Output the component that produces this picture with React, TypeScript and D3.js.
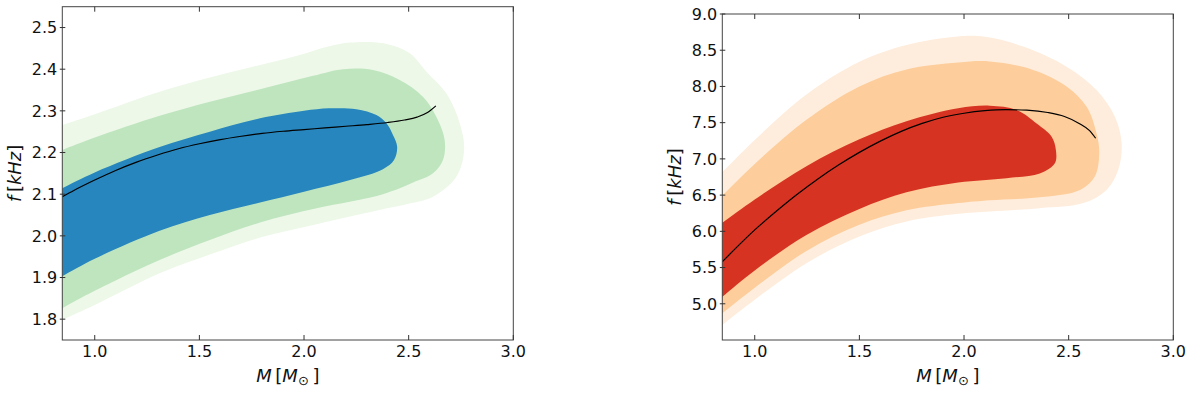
import React, { useRef, useEffect } from 'react';
import * as d3 from 'd3';

type Pt = [number, number];

// tick values
const massTicks = [1.0, 1.5, 2.0, 2.5, 3.0];
const leftFreqTicks = [1.8, 1.9, 2.0, 2.1, 2.2, 2.3, 2.4, 2.5];
const rightFreqTicks = [5.0, 5.5, 6.0, 6.5, 7.0, 7.5, 8.0, 8.5, 9.0];

// left panel: contour outlines [M, f], outer -> inner
const leftOuter: Pt[] = [
  [0.8, 2.258], [0.845, 2.266], [1.0, 2.292], [1.31, 2.346], [1.55, 2.38], [1.79, 2.41],
  [1.98, 2.434], [2.12, 2.455], [2.22, 2.464], [2.38, 2.462], [2.505, 2.438], [2.585, 2.394],
  [2.68, 2.342], [2.744, 2.27], [2.765, 2.206], [2.728, 2.142], [2.616, 2.094], [2.5, 2.077],
  [2.377, 2.064], [2.06, 2.028], [1.79, 1.996], [1.55, 1.955], [1.31, 1.91], [1.0, 1.834],
  [0.845, 1.798], [0.8, 1.786],
];
const leftMiddle: Pt[] = [
  [0.8, 2.196], [0.845, 2.206], [1.0, 2.236], [1.31, 2.288], [1.55, 2.322], [1.79, 2.352],
  [2.043, 2.384], [2.186, 2.4], [2.33, 2.398], [2.457, 2.374], [2.568, 2.334], [2.632, 2.286],
  [2.672, 2.23], [2.664, 2.182], [2.616, 2.15], [2.521, 2.128], [2.377, 2.1], [2.06, 2.066],
  [1.79, 2.032], [1.55, 1.99], [1.31, 1.942], [1.0, 1.868], [0.845, 1.826], [0.8, 1.812],
];
const leftInner: Pt[] = [
  [0.8, 2.102], [0.845, 2.114], [1.0, 2.152], [1.31, 2.213], [1.55, 2.25], [1.79, 2.282],
  [2.0, 2.3], [2.12, 2.306], [2.25, 2.304], [2.346, 2.29], [2.394, 2.27], [2.425, 2.242],
  [2.445, 2.214], [2.43, 2.182], [2.377, 2.16], [2.22, 2.134], [2.0, 2.106], [1.79, 2.08],
  [1.55, 2.05], [1.31, 2.012], [1.0, 1.945], [0.845, 1.903], [0.8, 1.89],
];
const leftCurve: Pt[] = [
  [0.845, 2.094], [0.9, 2.109], [1.0, 2.134], [1.1, 2.157], [1.2, 2.177], [1.3, 2.194],
  [1.4, 2.209], [1.5, 2.221], [1.6, 2.231], [1.7, 2.239], [1.8, 2.246], [1.9, 2.251],
  [2.0, 2.255], [2.1, 2.259], [2.2, 2.263], [2.3, 2.267], [2.4, 2.272], [2.48, 2.278],
  [2.54, 2.285], [2.59, 2.296], [2.63, 2.312],
];

// right panel
const rightOuter: Pt[] = [
  [0.8, 6.7], [0.847, 6.825], [1.0, 7.262], [1.247, 7.89], [1.5, 8.34], [1.725, 8.572],
  [1.972, 8.69], [2.1, 8.685], [2.283, 8.55], [2.49, 8.273], [2.633, 7.95], [2.721, 7.58],
  [2.753, 7.216], [2.737, 6.85], [2.681, 6.572], [2.57, 6.39], [2.362, 6.32], [2.123, 6.273],
  [1.972, 6.241], [1.725, 6.135], [1.5, 5.928], [1.247, 5.561], [1.0, 5.055], [0.847, 4.71],
  [0.8, 4.59],
];
const rightMiddle: Pt[] = [
  [0.8, 6.37], [0.847, 6.5], [1.0, 6.93], [1.247, 7.54], [1.5, 8.0], [1.725, 8.235],
  [1.972, 8.33], [2.123, 8.345], [2.33, 8.228], [2.49, 8.0], [2.586, 7.72], [2.633, 7.354],
  [2.646, 7.08], [2.625, 6.756], [2.554, 6.572], [2.362, 6.47], [2.123, 6.43], [1.972, 6.39],
  [1.725, 6.29], [1.5, 6.09], [1.247, 5.73], [1.0, 5.22], [0.847, 4.872], [0.8, 4.76],
];
const rightInner: Pt[] = [
  [0.8, 6.02], [0.847, 6.121], [1.0, 6.44], [1.247, 6.9], [1.5, 7.27], [1.725, 7.52],
  [1.972, 7.7], [2.123, 7.735], [2.251, 7.676], [2.347, 7.49], [2.418, 7.31], [2.439, 7.124],
  [2.434, 6.94], [2.362, 6.8], [2.203, 6.734], [1.972, 6.675], [1.725, 6.54], [1.5, 6.31],
  [1.247, 5.95], [1.0, 5.46], [0.847, 5.1], [0.8, 4.98],
];
const rightCurve: Pt[] = [
  [0.845, 5.58], [0.9, 5.74], [1.0, 6.02], [1.1, 6.27], [1.2, 6.505], [1.3, 6.72],
  [1.4, 6.915], [1.5, 7.09], [1.6, 7.245], [1.7, 7.38], [1.8, 7.49], [1.9, 7.575],
  [2.0, 7.63], [2.1, 7.665], [2.2, 7.68], [2.3, 7.672], [2.4, 7.64], [2.48, 7.585],
  [2.55, 7.49], [2.6, 7.39], [2.629, 7.285],
];

const greens = ['#edf8e8', '#bfe5bf', '#2686bd'];
const oranges = ['#feeddc', '#fdcd9b', '#d73322'];

const FONT = 'DejaVu Sans, sans-serif';

const App = () => {
  const svgRef = useRef<SVGSVGElement>(null);

  useEffect(() => {
    const svg = d3.select(svgRef.current);
    svg.selectAll('*').remove();

    const drawPanel = (
      id: string,
      box: { left: number; right: number; top: number; bottom: number },
      yDomain: [number, number],
      yTicks: number[],
      levels: Pt[][],
      colors: string[],
      curve: Pt[]
    ) => {
      const x = d3.scaleLinear().domain([0.845, 3.0]).range([box.left, box.right]);
      const y = d3.scaleLinear().domain(yDomain).range([box.bottom, box.top]);

      svg.append('clipPath').attr('id', `clip-${id}`)
        .append('rect')
        .attr('x', box.left).attr('y', box.top)
        .attr('width', box.right - box.left).attr('height', box.bottom - box.top);

      const g = svg.append('g').attr('clip-path', `url(#clip-${id})`);

      // filled density contours
      const area = d3.line<Pt>()
        .x(d => x(d[0]))
        .y(d => y(d[1]))
        .curve(d3.curveCatmullRomClosed.alpha(0.5));

      levels.forEach((pts, i) => {
        g.append('path').attr('d', area(pts)).attr('fill', colors[i]);
      });

      const line = d3.line<Pt>()
        .x(d => x(d[0]))
        .y(d => y(d[1]))
        .curve(d3.curveMonotoneX);

      g.append('path').attr('d', line(curve))
        .attr('fill', 'none').attr('stroke', '#000').attr('stroke-width', 1.2);

      // frame
      svg.append('rect')
        .attr('x', box.left).attr('y', box.top)
        .attr('width', box.right - box.left).attr('height', box.bottom - box.top)
        .attr('fill', 'none').attr('stroke', '#444').attr('stroke-width', 1);

      // x ticks, inward on bottom and top
      massTicks.forEach(t => {
        const px = x(t);
        svg.append('line').attr('x1', px).attr('x2', px)
          .attr('y1', box.bottom).attr('y2', box.bottom - 5)
          .attr('stroke', '#333').attr('stroke-width', 1);
        svg.append('line').attr('x1', px).attr('x2', px)
          .attr('y1', box.top).attr('y2', box.top + 5)
          .attr('stroke', '#333').attr('stroke-width', 1);
        svg.append('text').attr('x', px).attr('y', box.bottom + 16.5)
          .attr('text-anchor', 'middle')
          .attr('font-family', FONT).attr('font-size', 16).attr('fill', '#111')
          .text(d3.format('.1f')(t));
      });

      // y ticks, in-out
      yTicks.forEach(t => {
        const py = y(t);
        svg.append('line').attr('x1', box.left - 2.5).attr('x2', box.left + 3)
          .attr('y1', py).attr('y2', py)
          .attr('stroke', '#333').attr('stroke-width', 1);
        svg.append('text').attr('x', box.left - 5).attr('y', py).attr('dy', '0.36em')
          .attr('text-anchor', 'end')
          .attr('font-family', FONT).attr('font-size', 16).attr('fill', '#111')
          .text(d3.format('.1f')(t));
      });

      // x label: M [M_sun]
      const xl = svg.append('text')
        .attr('x', (box.left + box.right) / 2).attr('y', 381.5)
        .attr('text-anchor', 'middle')
        .attr('font-family', FONT).attr('font-size', 18).attr('fill', '#111');
      xl.append('tspan').attr('font-style', 'italic').text('M');
      xl.append('tspan').text('\u2009[');
      xl.append('tspan').attr('font-style', 'italic').text('M');
      xl.append('tspan').attr('font-size', 13).attr('dy', 3.5).text('\u2299');
      xl.append('tspan').attr('dy', -3.5).text('\u2009]');

      // y label: f [kHz]
      const cy = (box.top + box.bottom) / 2;
      const lx = box.left - 41;
      const yl = svg.append('text')
        .attr('transform', `translate(${lx},${cy}) rotate(-90)`)
        .attr('text-anchor', 'middle')
        .attr('font-family', FONT).attr('font-size', 18).attr('fill', '#111');
      yl.append('tspan').attr('font-style', 'italic').text('f');
      yl.append('tspan').text('\u2009[');
      yl.append('tspan').attr('font-style', 'italic').text('kHz');
      yl.append('tspan').text(']');
    };

    drawPanel('left', { left: 62.3, right: 513.3, top: 6.7, bottom: 340 },
      [1.75, 2.55], leftFreqTicks, [leftOuter, leftMiddle, leftInner], greens, leftCurve);
    drawPanel('right', { left: 722.3, right: 1173.3, top: 14, bottom: 340 },
      [4.5, 9.0], rightFreqTicks, [rightOuter, rightMiddle, rightInner], oranges, rightCurve);
  }, []);

  return (
    <svg ref={svgRef} width={1200} height={393}
      style={{ position: 'absolute', left: 0, top: 0, background: '#fff' }} />
  );
};

export default App;
